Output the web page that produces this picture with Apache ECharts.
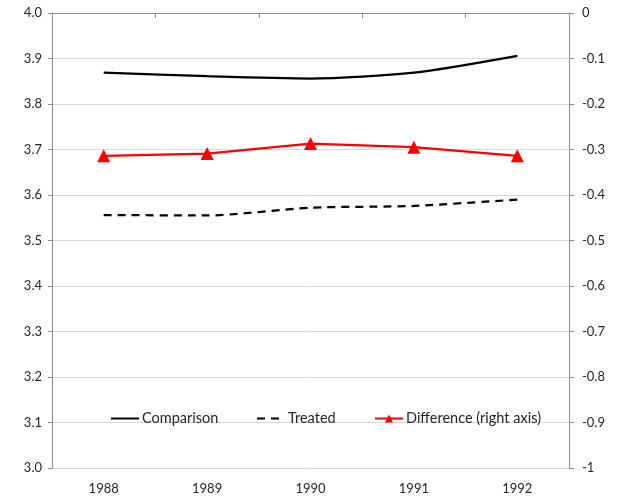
<!DOCTYPE html>
<html>
<head>
<meta charset="utf-8">
<script src="https://cdn.jsdelivr.net/npm/echarts@6/dist/echarts.min.js"></script>
<style>
  html, body { margin: 0; padding: 0; background: #fff; }
  #chart { width: 622px; height: 501px; }
</style>
</head>
<body>
<div id="chart"></div>
<script>
// Years on the category axis
const years = ['1988', '1989', '1990', '1991', '1992'];
// Left-axis series
const comparison = [3.869, 3.861, 3.856, 3.869, 3.906];
const treated = [3.556, 3.555, 3.572, 3.576, 3.590];
// Right-axis series
const difference = [-0.314, -0.309, -0.287, -0.295, -0.314];

const textColor = '#262626';
const fontFamily = 'Lato, "Liberation Sans", sans-serif';
const axisGray = '#8c8c8c';
const gridGray = '#d9d9d9';

const chart = echarts.init(document.getElementById('chart'), null, { renderer: 'canvas' });

// One legend block per series so each entry sits at its own spot
function legendAt(left, name, symbolStyle) {
  return {
    left: left, top: 411, padding: 0,
    itemWidth: 28, itemHeight: 10, itemGap: 4,
    itemStyle: symbolStyle,
    textStyle: { color: textColor, fontFamily: fontFamily, fontSize: 14.5, padding: [0, 0, 0, -2] },
    data: [name]
  };
}

chart.setOption({
  animation: false,
  backgroundColor: '#fff',
  grid: { left: 52, right: 53, top: 13, bottom: 33 },
  legend: [
    legendAt(110, 'Comparison', { opacity: 0 }),
    legendAt(256, 'Treated', { opacity: 0 }),
    legendAt(374, 'Difference (right axis)', { color: '#ff0000', opacity: 1 })
  ],
  xAxis: {
    type: 'category',
    data: years,
    boundaryGap: true,
    axisLine: { lineStyle: { color: axisGray, width: 1 } },
    axisTick: { show: true, length: 5, lineStyle: { color: axisGray } },
    axisLabel: { color: textColor, fontFamily: fontFamily, fontSize: 13, margin: 14 }
  },
  yAxis: [
    {
      type: 'value', min: 3.0, max: 4.0, interval: 0.1,
      axisLine: { show: true, lineStyle: { color: axisGray } },
      axisTick: { show: true, length: 4, lineStyle: { color: axisGray } },
      splitLine: { lineStyle: { color: gridGray, width: 1 } },
      axisLabel: {
        color: textColor, fontFamily: fontFamily, fontSize: 13, margin: 10,
        formatter: v => v.toFixed(1)
      }
    },
    {
      type: 'value', min: -1, max: 0, interval: 0.1,
      position: 'right',
      axisLine: { show: true, lineStyle: { color: axisGray } },
      axisTick: { show: true, length: 5, lineStyle: { color: axisGray } },
      splitLine: { show: false },
      axisLabel: {
        color: textColor, fontFamily: fontFamily, fontSize: 13, margin: 13,
        formatter: v => (Math.abs(v) < 1e-9 ? '0' : (Number.isInteger(v) ? String(v) : v.toFixed(1)))
      }
    }
  ],
  series: [
    {
      name: 'Comparison', type: 'line', yAxisIndex: 0, data: comparison,
      smooth: 0.25, symbol: 'none',
      lineStyle: { color: '#000', width: 2.25 },
      itemStyle: { color: '#000' }
    },
    {
      name: 'Treated', type: 'line', yAxisIndex: 0, data: treated,
      smooth: 0.25, symbol: 'none',
      lineStyle: { color: '#000', width: 2.25, type: [8, 6] },
      itemStyle: { color: '#000' }
    },
    {
      name: 'Difference (right axis)', type: 'line', yAxisIndex: 1, data: difference,
      symbol: 'triangle', symbolSize: 13,
      lineStyle: { color: '#ff0000', width: 2.25 },
      itemStyle: { color: '#ff0000' }
    }
  ]
});
</script>
</body>
</html>
